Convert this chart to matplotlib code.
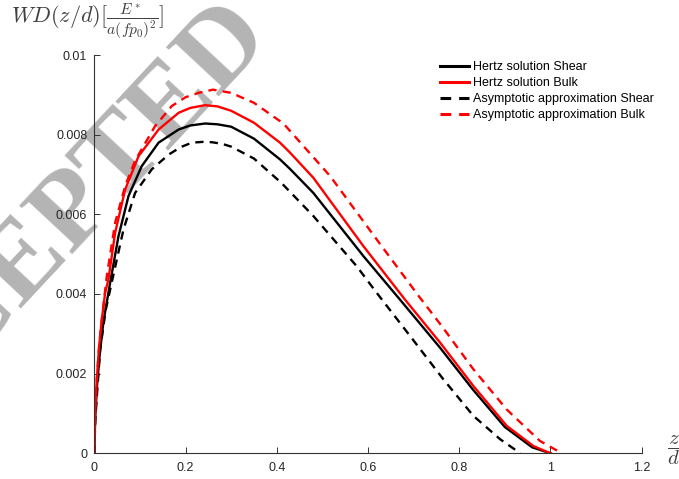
import numpy as np
import matplotlib; matplotlib.use("Agg")
import matplotlib.pyplot as plt

plt.rcParams["mathtext.fontset"] = "cm"

# ── data ────────────────────────────────────────────────────────────
x_hs = [0, 0.002, 0.006, 0.012, 0.02, 0.0347, 0.053, 0.075, 0.104, 0.141, 0.185, 0.21,
        0.243, 0.27, 0.3, 0.35, 0.407, 0.429, 0.48, 0.59, 0.67, 0.758, 0.83, 0.9, 0.96, 1.0]
y_hs = [0, 0.0009, 0.0017, 0.0025, 0.0033, 0.00428, 0.00545, 0.00646, 0.00721, 0.0078,
        0.00813, 0.00823, 0.00828, 0.00826, 0.0082, 0.0079, 0.00738, 0.00714, 0.00654,
        0.00495, 0.00386, 0.00265, 0.0016, 0.00066, 0.00015, 0]

x_hb = [0, 0.0004, 0.002, 0.0055, 0.0106, 0.0165, 0.0238, 0.031, 0.0457, 0.0676, 0.097,
        0.141, 0.185, 0.21, 0.243, 0.27, 0.3, 0.35, 0.407, 0.429, 0.48, 0.59, 0.681, 0.758,
        0.831, 0.904, 0.963, 1.0]
y_hb = [0, 0.00035, 0.00102, 0.00186, 0.00269, 0.00336, 0.00403, 0.00437, 0.00554,
        0.00662, 0.00746, 0.00813, 0.00855, 0.00867, 0.00874, 0.00871, 0.0086, 0.0083,
        0.0078, 0.00755, 0.00692, 0.0052, 0.00386, 0.00278, 0.00169, 0.00069, 0.00018, 0]

x_as = [0, 0.002, 0.006, 0.0128, 0.025, 0.038, 0.064, 0.0895, 0.126, 0.163, 0.19, 0.214,
        0.24, 0.258, 0.28, 0.3, 0.35, 0.41, 0.48, 0.575, 0.619, 0.7, 0.765, 0.831, 0.89,
        0.934]
y_as = [0, 0.0008, 0.0015, 0.0026, 0.0036, 0.00428, 0.00562, 0.00654, 0.00713, 0.0075,
        0.00769, 0.0078, 0.00782, 0.00781, 0.00777, 0.0077, 0.0074, 0.00679, 0.00596,
        0.0047, 0.00403, 0.00283, 0.00186, 0.00094, 0.00035, 0]

x_ab = [0, 0.002, 0.0055, 0.0106, 0.0165, 0.0274, 0.0457, 0.0676, 0.0895, 0.133, 0.17,
        0.2, 0.229, 0.26, 0.3, 0.35, 0.407, 0.42, 0.517, 0.619, 0.711, 0.762, 0.831, 0.904,
        0.977, 1.025]
y_ab = [0, 0.00102, 0.00186, 0.00269, 0.00336, 0.00445, 0.00579, 0.00671, 0.00735,
        0.00821, 0.00872, 0.00894, 0.00905, 0.00913, 0.00905, 0.0088, 0.00834, 0.00821,
        0.00696, 0.00537, 0.00395, 0.00319, 0.00211, 0.0011, 0.00031, 0]

labels = ["Hertz solution Shear", "Hertz solution Bulk",
          "Asymptotic approximation Shear", "Asymptotic approximation Bulk"]
xticks = [0, 0.2, 0.4, 0.6, 0.8, 1.0, 1.2]
xtick_labels = ["0", "0.2", "0.4", "0.6", "0.8", "1", "1.2"]
yticks = [0, 0.002, 0.004, 0.006, 0.008, 0.01]
ytick_labels = ["0", "0.002", "0.004", "0.006", "0.008", "0.01"]

# ── figure ──────────────────────────────────────────────────────────
W, H = 679, 479
fig = plt.figure(figsize=(W / 100, H / 100), dpi=100)
ax = fig.add_axes([94.3 / W, 1 - 453.3 / H, (641.7 - 94.3) / W, (453.3 - 55) / H])
ax.patch.set_alpha(0)

# watermark behind everything
fig.text(45 / W, 1 - 242 / H, "ACCEPTED", rotation=47, fontsize=80,
         family="Liberation Serif", weight="bold", color="#b4b4b4",
         ha="center", va="center", zorder=-5)

lw = 1.7
dash = (0, (3.5, 2.6))
ax.plot(x_hs, y_hs, color="black", lw=lw, label=labels[0])
ax.plot(x_hb, y_hb, color="#ff0000", lw=lw, label=labels[1])
ax.plot(x_as, y_as, color="black", lw=lw, ls=dash, label=labels[2])
ax.plot(x_ab, y_ab, color="#ff0000", lw=lw, ls=dash, label=labels[3])

ax.set_xlim(0, 1.2)
ax.set_ylim(0, 0.01)
ax.set_xticks(xticks, xtick_labels)
ax.set_yticks(yticks, ytick_labels)
for sp in ["top", "right"]:
    ax.spines[sp].set_visible(False)
for sp in ["left", "bottom"]:
    ax.spines[sp].set_color("#333333")
    ax.spines[sp].set_linewidth(0.8)
ax.tick_params(direction="in", length=4, width=0.7, color="#333333",
               labelcolor="#262626", labelsize=9)
ax.tick_params(axis="x", pad=6)
ax.tick_params(axis="y", pad=5)
for t in ax.get_xticklabels() + ax.get_yticklabels():
    t.set_family("Liberation Sans")

fig.text(11 / W, 1 - 21 / H, r"$WD(z/d)[\frac{E^*}{a(fp_0)^2}]$", fontsize=16,
         color="#404040", ha="left", va="center")
fig.text(673 / W, 1 - 450 / H, r"$\dfrac{z}{d}$", fontsize=15,
         color="#404040", ha="center", va="center")

leg = ax.legend(loc="upper left", bbox_to_anchor=(440 / W, 1 - 61 / H),
                bbox_transform=fig.transFigure, frameon=False, borderpad=0,
                borderaxespad=0, handlelength=2.3, handletextpad=0.35,
                labelspacing=0.33, prop={"family": "Liberation Sans", "size": 9})
for line in leg.get_lines():
    line.set_linewidth(2.2)

fig.savefig("out.png", dpi=100, facecolor="white")
